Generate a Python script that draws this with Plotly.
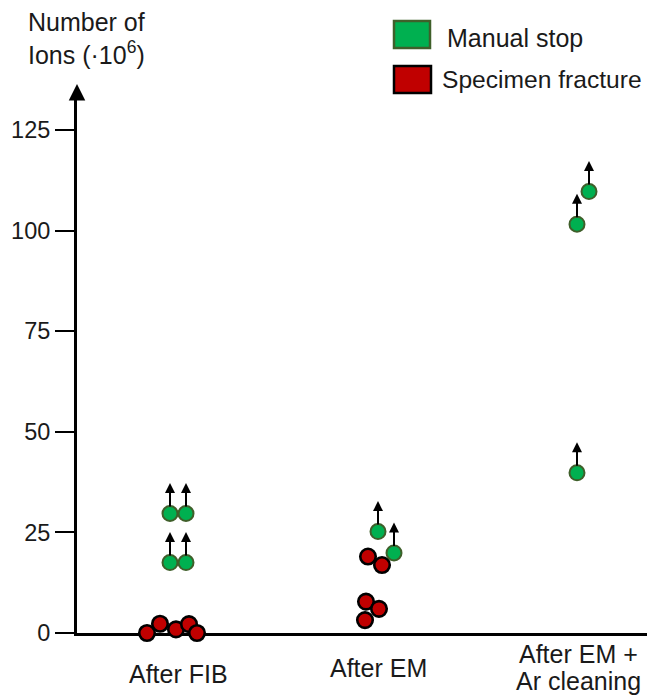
import plotly.graph_objects as go

# ---- data ----
categories = ["After FIB", "After EM", "After EM +<br>Ar cleaning"]
y_ticks = [0, 25, 50, 75, 100, 125]

# Manual stop (green) points: category index, small horizontal jitter, value (·10^6 ions)
manual_cat = [0, 0, 0, 0, 1, 1, 2, 2, 2]
manual_jit = [-0.04, 0.04, -0.04, 0.04, 0.0, 0.08, 0.055, -0.005, -0.005]
manual_val = [29.7, 29.7, 17.5, 17.5, 25.2, 19.9, 109.7, 101.6, 39.8]

# Specimen fracture (red) points
fract_cat = [0, 0, 0, 0, 0, 1, 1, 1, 1, 1]
fract_jit = [-0.155, -0.09, -0.01, 0.055, 0.095, -0.05, 0.02, -0.06, 0.005, -0.065]
fract_val = [0.0, 2.3, 0.9, 2.2, 0.0, 19.0, 16.9, 7.8, 6.0, 3.2]

# ---- layout geometry (page pixels) ----
PAGE_W, PAGE_H = 647, 696
W, H = PAGE_W, PAGE_H
AX_X, AX_Y, TOP_Y = 77, 633, 96          # y-axis x, x-axis y, top of plot (px)
L, T, B, R = AX_X, TOP_Y, PAGE_H - AX_Y, 0
PW, PH = W - L - R, H - T - B


def px(xp):
    return (xp - AX_X) / PW


def py(yp):
    return (AX_Y - yp) / PH


GREEN, GREEN_EDGE = "#00B050", "#3F5F2A"
RED, RED_EDGE = "#C00000", "#000000"
FONT = "Liberation Sans, Arial, sans-serif"
TXT = "#1a1a1a"
FS = 25

mx = [c + j for c, j in zip(manual_cat, manual_jit)]
fx = [c + j for c, j in zip(fract_cat, fract_jit)]

fig = go.Figure()
fig.add_trace(go.Scatter(
    x=fx, y=fract_val, mode="markers", name="Specimen fracture",
    marker=dict(size=15.5, color=RED, line=dict(color=RED_EDGE, width=2.6)),
    cliponaxis=False, showlegend=False, hoverinfo="skip"))
fig.add_trace(go.Scatter(
    x=mx, y=manual_val, mode="markers", name="Manual stop",
    marker=dict(size=15, color=GREEN, line=dict(color=GREEN_EDGE, width=2)),
    cliponaxis=False, showlegend=False, hoverinfo="skip"))

annotations = []
# upward arrows on manual-stop points (lower bounds)
for x, y in zip(mx, manual_val):
    annotations.append(dict(
        x=x, y=y, xref="x", yref="y", text="", showarrow=True,
        ax=0, ay=-32, arrowside="start",
        startarrowhead=2, startarrowsize=1.0,
        arrowwidth=2, arrowcolor="black", standoff=7))

# x category labels (multi-line labels set with tighter line spacing)
label_cy = [674, 668, 667]     # vertical centre of each label block (px)
line_gap = 27
for i, c in enumerate(categories):
    lines = c.split("<br>")
    n = len(lines)
    for k, ln in enumerate(lines):
        yc = label_cy[i] + (k - (n - 1) / 2) * line_gap
        annotations.append(dict(
            x=i, y=py(yc), xref="x", yref="paper", text=ln, showarrow=False,
            xanchor="center", yanchor="middle",
            font=dict(family=FONT, size=FS, color=TXT)))

# y axis arrowhead
annotations.append(dict(
    x=0, y=py(84), xref="paper", yref="paper", text="", showarrow=True,
    ax=0, ay=16, arrowhead=2, arrowsize=1.1, arrowwidth=3, arrowcolor="black"))

# y axis title
annotations.append(dict(
    x=px(86), y=py(38), xref="paper", yref="paper",
    text="Number of<br>Ions (·10<sup>6</sup>)", showarrow=False,
    xanchor="center", yanchor="middle", align="left",
    font=dict(family=FONT, size=FS, color=TXT)))

# legend texts
annotations.append(dict(
    x=px(445), y=py(38), xref="paper", yref="paper", text="Manual stop",
    showarrow=False, xanchor="left", yanchor="middle",
    font=dict(family=FONT, size=FS, color=TXT)))
annotations.append(dict(
    x=px(440), y=py(79), xref="paper", yref="paper", text="Specimen fracture",
    showarrow=False, xanchor="left", yanchor="middle",
    font=dict(family=FONT, size=24.6, color=TXT)))

shapes = [
    dict(type="rect", xref="paper", yref="paper",
         x0=px(394), x1=px(430), y0=py(48), y1=py(21),
         fillcolor=GREEN, line=dict(color=GREEN_EDGE, width=2.5)),
    dict(type="rect", xref="paper", yref="paper",
         x0=px(394), x1=px(431), y0=py(93), y1=py(66),
         fillcolor=RED, line=dict(color="black", width=2.5)),
]

fig.update_layout(
    width=W, height=H,
    margin=dict(l=L, r=R, t=T, b=B),
    plot_bgcolor="white", paper_bgcolor="white",
    showlegend=False, hovermode=False,
    annotations=annotations, shapes=shapes,
    xaxis=dict(range=[(AX_X - 178) / 200, (PAGE_W - 178) / 200], showgrid=False,
               zeroline=False, showline=True, linecolor="black", linewidth=3,
               showticklabels=False, ticks="", layer="below traces",
               fixedrange=True),
    yaxis=dict(range=[0, PH / 4.024], showgrid=False, zeroline=False,
               showline=True, linecolor="black", linewidth=3,
               tickvals=y_ticks, ticktext=[str(v) for v in y_ticks],
               ticks="outside", ticklen=19, tickwidth=2, tickcolor="black",
               tickfont=dict(family=FONT, size=23.5, color=TXT),
               layer="below traces", fixedrange=True),
)

fig.write_html(
    "out.html",
    config={"displayModeBar": False, "staticPlot": True},
    post_script=("document.body.style.margin='0';"
                 "document.body.style.overflow='hidden';"
                 "document.documentElement.style.overflow='hidden';"),
)
